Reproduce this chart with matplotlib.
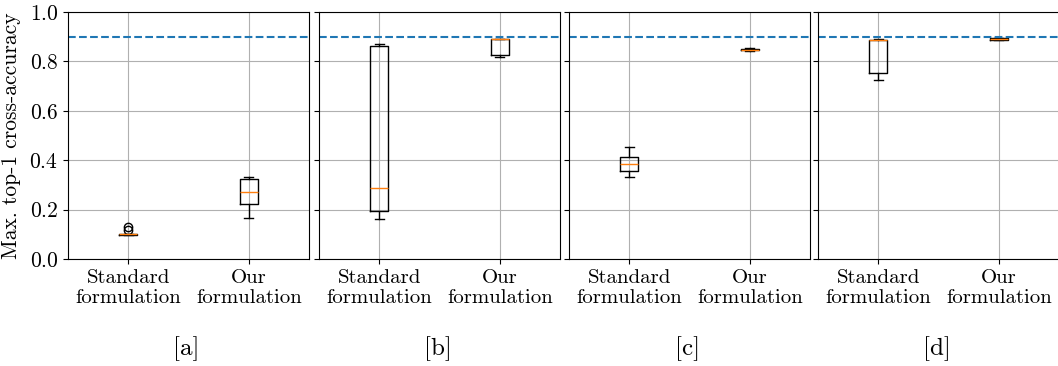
import numpy as np
import matplotlib.pyplot as plt

plt.rcParams['font.family'] = ['cmr10', 'DejaVu Serif']
plt.rcParams['mathtext.fontset'] = 'cm'
plt.rcParams['axes.formatter.use_mathtext'] = True
plt.rcParams['font.size'] = 15

panels = ['[a]', '[b]', '[c]', '[d]']
methods = ['Standard\nformulation', 'Our\nformulation']
baseline = 0.898

# per panel: [standard, ours]
med = [[0.100, 0.270], [0.286, 0.889], [0.386, 0.848], [0.888, 0.891]]
q1 = [[0.098, 0.221], [0.193, 0.825], [0.358, 0.845], [0.753, 0.888]]
q3 = [[0.101, 0.324], [0.862, 0.889], [0.412, 0.851], [0.888, 0.893]]
whislo = [[0.096, 0.167], [0.161, 0.818], [0.331, 0.843], [0.726, 0.886]]
whishi = [[0.102, 0.333], [0.869, 0.891], [0.452, 0.853], [0.890, 0.894]]
fliers = [[[0.117, 0.131], []], [[], []], [[], []], [[], []]]

fig = plt.figure(figsize=(10.58, 3.66), dpi=100)
W, H = 1058, 366
lefts = [68, 319, 569, 818]
axw = 241
bot, top = 259, 12

for i in range(4):
    ax = fig.add_axes([lefts[i] / W, 1 - bot / H, axw / W, (bot - top) / H])
    stats = []
    for j in range(2):
        stats.append(dict(med=med[i][j], q1=q1[i][j], q3=q3[i][j],
                          whislo=whislo[i][j], whishi=whishi[i][j],
                          fliers=fliers[i][j]))
    ax.bxp(stats, positions=[1, 2], widths=0.15)
    ax.axhline(baseline, ls='--', color='C0', lw=1.5)
    ax.set_xlim(0.5, 2.5)
    ax.set_ylim(0, 1)
    ax.set_yticks(np.arange(0, 1.01, 0.2))
    ax.tick_params(axis='y', labelsize=15.5)
    ax.set_xticks([1, 2])
    ax.set_xticklabels(methods, linespacing=1.15)
    ax.grid(True)
    ax.set_axisbelow(True)
    if i == 0:
        ax.set_ylabel('Max. top-1 cross-accuracy', labelpad=6, fontsize=15.5)
    else:
        ax.set_yticklabels([])
    fig.text((lefts[i] + axw / 2 - 2) / W, 1 - 349 / H, panels[i],
             ha='center', va='center', fontsize=18)

fig.savefig('out.png', dpi=100)
